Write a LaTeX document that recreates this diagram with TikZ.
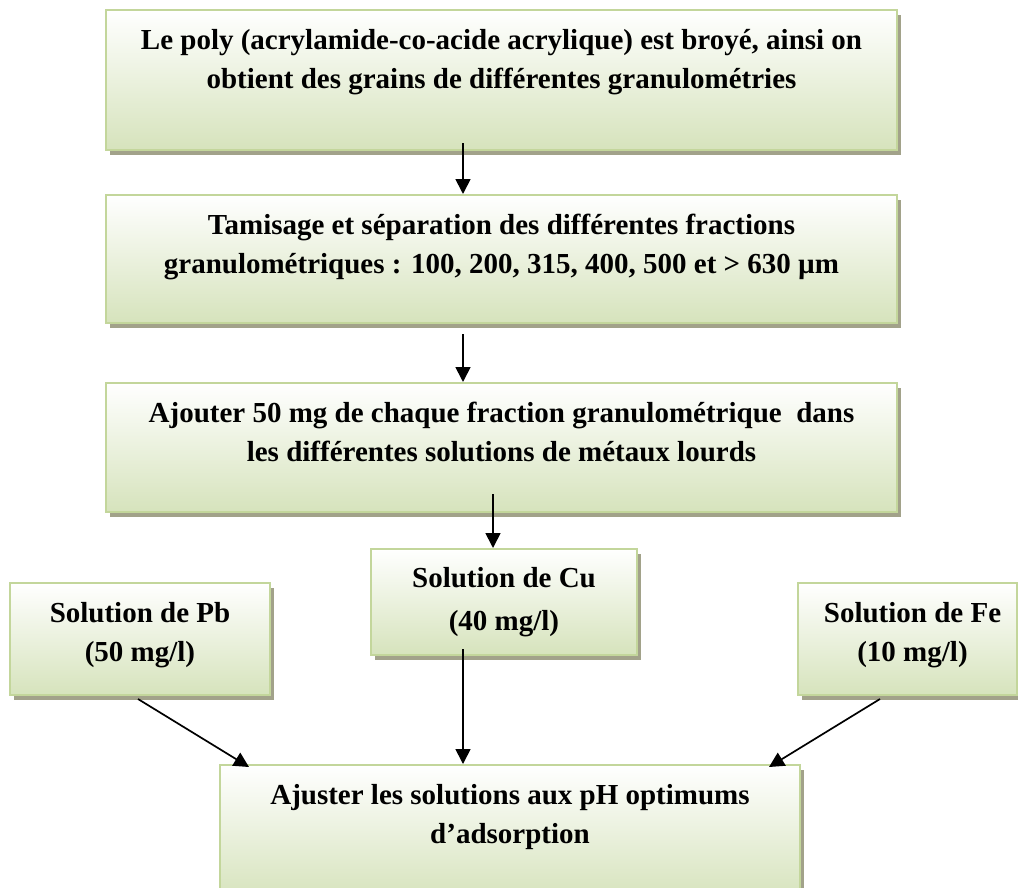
\documentclass[tikz,border=0pt]{standalone}
\usepackage{fontspec}
\setmainfont{Liberation Serif}
\usetikzlibrary{arrows.meta,shadows}
\definecolor{boxborder}{HTML}{C3D69B}
\definecolor{boxgreen}{HTML}{D6E3BC}
\definecolor{shadowc}{HTML}{A2A28A}
\begin{document}
\begin{tikzpicture}[x=1pt,y=-1pt,
  box/.style={rectangle, draw=boxborder, line width=2pt, top color=white, bottom color=boxgreen,
    drop shadow={shadow xshift=4pt, shadow yshift=-5pt, fill=shadowc, opacity=1}, inner sep=0pt},
  txt/.style={font=\bfseries\fontsize{29}{39}\selectfont, align=center, inner sep=0pt, anchor=north},
  arr/.style={-{Triangle[length=15pt,width=15pt]}, line width=1.7pt}]
\clip (0,0) rectangle (1018,887);
\fill[white] (0,0) rectangle (1018,887);
% boxes
\node[box, minimum width=791pt, minimum height=140pt] (b1) at (501.5,80) {};
\node[box, minimum width=791pt, minimum height=128pt] (b2) at (501.5,259) {};
\node[box, minimum width=791pt, minimum height=129pt] (b3) at (501.5,447.5) {};
\node[box, minimum width=266pt, minimum height=106pt] (cu) at (504,602) {};
\node[box, minimum width=260pt, minimum height=112pt] (pb) at (140,639) {};
\node[box, minimum width=219pt, minimum height=112pt] (fe) at (907.5,639) {};
\node[box, minimum width=580pt, minimum height=135pt] (bot) at (510,832.5) {};
% texts
\node[txt] (t1) at ([yshift=-20pt]b1.north) {Le poly (acrylamide-co-acide acrylique) est broyé, ainsi on\\obtient des grains de différentes granulométries};
\node[txt] (t2) at ([yshift=-20pt]b2.north) {Tamisage et séparation des différentes fractions\\granulométriques : 100, 200, 315, 400, 500 et > 630 µm};
\node[txt] (t3) at ([yshift=-20pt]b3.north) {Ajouter 50 mg de chaque fraction granulométrique \ dans\\les différentes solutions de métaux lourds};
\node[txt, font=\bfseries\fontsize{29}{43}\selectfont] (tcu) at ([yshift=-19pt]cu.north) {Solution de Cu\\(40 mg/l)};
\node[txt] (tpb) at ([yshift=-20pt]pb.north) {Solution de Pb\\(50 mg/l)};
\node[txt] (tfe) at ([xshift=5pt,yshift=-20pt]fe.north) {Solution de Fe\\(10 mg/l)};
\node[txt] (tbot) at ([yshift=-20pt]bot.north) {Ajuster les solutions aux pH optimums\\d’adsorption};
% arrows
\draw[arr] ([xshift=-38.5pt,yshift=8pt]b1.south) -- ([xshift=-38.5pt]b2.north);
\draw[arr] ([xshift=-38.5pt,yshift=-10pt]b2.south) -- ([xshift=-38.5pt]b3.north);
\draw[arr] ([xshift=-8.5pt,yshift=19pt]b3.south) -- ([xshift=-11pt]cu.north);
\draw[arr] ([xshift=-41pt,yshift=7pt]cu.south) -- ([xshift=-47pt]bot.north);
\draw[arr] ([xshift=-2pt,yshift=-3pt]pb.south) -- ([xshift=30pt,yshift=-3pt]bot.north west);
\draw[arr] ([xshift=-27.5pt,yshift=-3pt]fe.south) -- ([xshift=-32pt,yshift=-3pt]bot.north east);
\end{tikzpicture}
\end{document}
